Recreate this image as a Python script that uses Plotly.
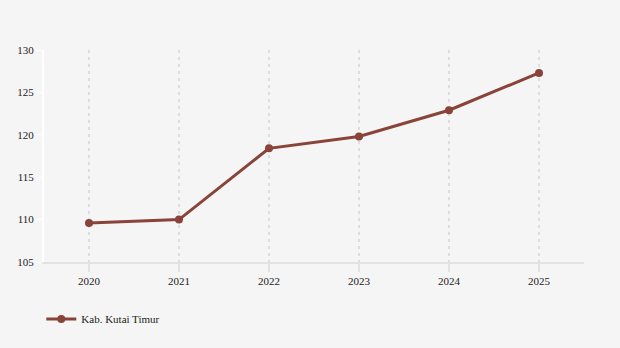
import plotly.graph_objects as go

years = ["2020", "2021", "2022", "2023", "2024", "2025"]
values = [109.6, 110.0, 118.4, 119.8, 122.9, 127.3]
series_name = "Kab. Kutai Timur"
y_ticks = [105, 110, 115, 120, 125, 130]

line_color = "#8a4339"
font_family = "Liberation Serif"
font_size = 11

fig = go.Figure()
fig.add_trace(go.Scatter(
    x=years,
    y=values,
    name=series_name,
    mode="lines+markers",
    line=dict(color=line_color, width=3),
    marker=dict(color=line_color, size=8),
))

fig.update_layout(
    width=620,
    height=348,
    margin=dict(l=44, r=36, t=50, b=86),
    paper_bgcolor="#f5f5f5",
    plot_bgcolor="#f5f5f5",
    font=dict(family=font_family, size=font_size, color="#222222"),
    showlegend=True,
    legend=dict(
        orientation="h",
        x=-0.005, xanchor="left",
        y=-0.2, yanchor="top",
        font=dict(family=font_family, size=font_size, color="#222222"),
        bgcolor="rgba(0,0,0,0)",
    ),
    xaxis=dict(
        type="category",
        range=[-0.5, 5.5],
        showgrid=True,
        gridcolor="#dddddd",
        griddash="3px,4px",
        gridwidth=2,
        showline=True,
        linecolor="#e2e2e2",
        linewidth=2,
        ticks="outside",
        ticklen=8,
        tickwidth=2,
        tickcolor="#e2e2e2",
        tickfont=dict(family=font_family, size=font_size, color="#222222"),
        zeroline=False,
    ),
    yaxis=dict(
        range=[105, 130],
        tickvals=y_ticks,
        showgrid=False,
        showline=True,
        linecolor="#ffffff",
        linewidth=2,
        ticks="outside",
        ticklen=6,
        tickcolor="#ffffff",
        tickwidth=1,
        tickfont=dict(family=font_family, size=font_size, color="#222222"),
        zeroline=False,
    ),
)

fig.write_html("out.html")
